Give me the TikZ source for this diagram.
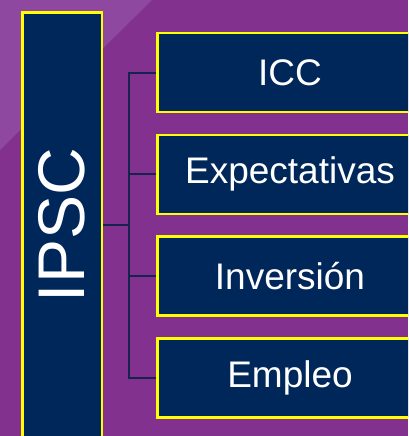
\documentclass[tikz,border=0pt]{standalone}
\usepackage{fontspec}
\setmainfont{Liberation Sans}
\usepackage{xcolor}
\usetikzlibrary{positioning}
\definecolor{plum}{HTML}{82318F}
\definecolor{lilac}{HTML}{8F48A0}
\definecolor{ink}{HTML}{00275A}
\definecolor{wire}{HTML}{14244E}
\definecolor{gold}{HTML}{FFFF00}

\begin{document}
\begin{tikzpicture}[
  x=1pt, y=1pt,
  node distance=20.3pt,
  pillar/.style={draw=gold, line width=2.5pt, fill=ink, text=white, minimum width=79.5pt, minimum height=425pt, inner sep=0pt, font=\fontsize{66}{70}\selectfont},
  item/.style={draw=gold, line width=2.5pt, fill=ink, text=white, minimum width=265.5pt, minimum height=79pt, inner sep=0pt, font=\fontsize{37}{40}\selectfont},
  link/.style={draw=wire, line width=2pt}
]
  \useasboundingbox (0,0) rectangle (408,-436);
  \clip (0,0) rectangle (408,-436);
  % backdrop
  \fill[plum] (0,0) rectangle (408,-436);
  \fill[lilac] (0,0) -- (152,0) -- (0,-150) -- cycle;

  \node[pillar] (ipsc) at (62,-225) {\rotatebox{90}{IPSC}};

  \node[item] (icc) at (290,-72.5) {ICC};
  \node[item, below=of icc] (expect) {Expectativas};
  \node[item, below=of expect] (inver) {Inversión};
  \node[item, below=of inver] (empleo) {Empleo};

  \coordinate (bus) at (129,0);
  \draw[link] (icc.west) -- (icc.west -| bus) -- (empleo.west -| bus) -- (empleo.west);
  \draw[link] (expect.west) -- (expect.west -| bus);
  \draw[link] (inver.west) -- (inver.west -| bus);
  \draw[link] (ipsc.east) -- (ipsc.east -| bus);
\end{tikzpicture}
\end{document}
